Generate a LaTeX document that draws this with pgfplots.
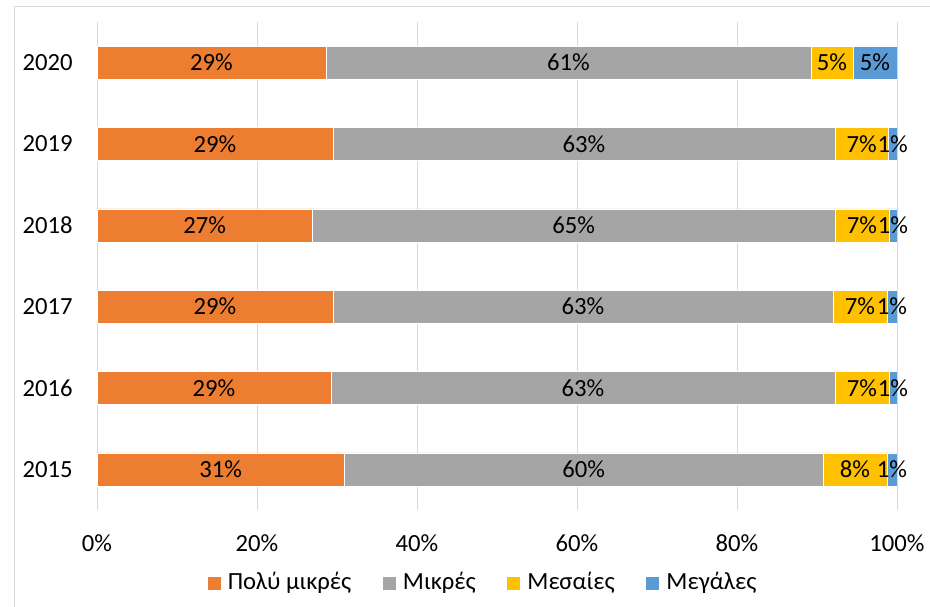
\documentclass[border=0pt]{standalone}
\usepackage{pgfplots}
\pgfplotsset{compat=1.18}
\usepackage{pgfplotstable}
\usepackage{fontspec}
\setmainfont{Carlito}
\definecolor{cO}{HTML}{ED7D31}
\definecolor{cG}{HTML}{A5A5A5}
\definecolor{cY}{HTML}{FFC000}
\definecolor{cB}{HTML}{5B9BD5}
\definecolor{gridc}{HTML}{D9D9D9}

\pgfplotstableread{
y O G Y B
0 30.9 59.85 8.0 1.25
1 29.25 63.0 6.75 1.0
2 29.5 62.5 6.75 1.25
3 26.9 65.35 6.75 1.0
4 29.5 62.75 6.65 1.1
5 28.6 60.65 5.25 5.5
}\datatable

\pgfplotstableread{
x y lab
15.45 0 31
60.825 0 60
94.75 0 8
99.375 0 1
14.625 1 29
60.75 1 63
95.625 1 7
99.5 1 1
14.75 2 29
60.75 2 63
95.375 2 7
99.375 2 1
13.45 3 27
59.575 3 65
95.625 3 7
99.5 3 1
14.75 4 29
60.875 4 63
95.575 4 7
99.45 4 1
14.3 5 29
58.93 5 61
91.875 5 5
97.25 5 5
}\labtable

\begin{document}
\fontsize{18.5}{22}\selectfont
\begin{tikzpicture}
\path[use as bounding box] (-72.75pt,-72pt) rectangle (624.75pt,382.5pt);
\draw[gridc, line width=0.75pt] (-61.5pt,-80pt) -- (-61.5pt,377.25pt) -- (640pt,377.25pt);
\begin{axis}[
  at={(0pt,0pt)}, anchor=south west,
  scale only axis, width=600pt, height=366pt,
  xbar stacked, bar width=24.75pt,
  xmin=0, xmax=100, ymin=-0.5, ymax=5.5,
  axis line style={draw=none},
  major tick length=0pt,
  xmajorgrids, grid style={gridc, line width=0.75pt},
  xtick={0,20,40,60,80,100},
  xticklabel={\pgfmathprintnumber{\tick}\%},
  xticklabel style={anchor=center, yshift=-24.75pt, font=\fontsize{18.5}{22}\selectfont},
  ytick={0,1,2,3,4,5},
  yticklabels={2015,2016,2017,2018,2019,2020},
  yticklabel style={anchor=east, inner sep=0pt, xshift=-18pt, font=\fontsize{18.5}{22}\selectfont},
  /pgf/number format/assume math mode=true,
  legend style={at={(0.4825,-0.1496)}, anchor=center, draw=none, fill=none,
    legend columns=4, font=\fontsize{18.5}{22}\selectfont,
    /tikz/every odd column/.append style={column sep=3pt},
    /tikz/every even column/.append style={column sep=21pt},
    inner sep=0pt},
  legend image code/.code={\fill[#1] (0pt,-5.25pt) rectangle (10.5pt,5.25pt);},
]
\addplot[fill=cO, draw=white, line width=0.3pt] table[x=O, y=y] {\datatable};
\addplot[fill=cG, draw=white, line width=0.3pt] table[x=G, y=y] {\datatable};
\addplot[fill=cY, draw=white, line width=0.3pt] table[x=Y, y=y] {\datatable};
\addplot[fill=cB, draw=white, line width=0.3pt] table[x=B, y=y] {\datatable};
\legend{Πολύ μικρές, Μικρές, Μεσαίες, Μεγάλες}
\end{axis}
\begin{axis}[
  at={(0pt,0pt)}, anchor=south west,
  scale only axis, width=600pt, height=366pt,
  xmin=0, xmax=100, ymin=-0.5, ymax=5.5,
  hide axis, clip=false,
]
\addplot[only marks, mark=none, nodes near coords={\pgfplotspointmeta\%},
  point meta=explicit symbolic,
  every node near coord/.append style={anchor=center, inner sep=0pt, text=black, font=\fontsize{18.5}{22}\selectfont}]
  table[x=x, y=y, meta=lab] {\labtable};
\end{axis}
\end{tikzpicture}
\end{document}
